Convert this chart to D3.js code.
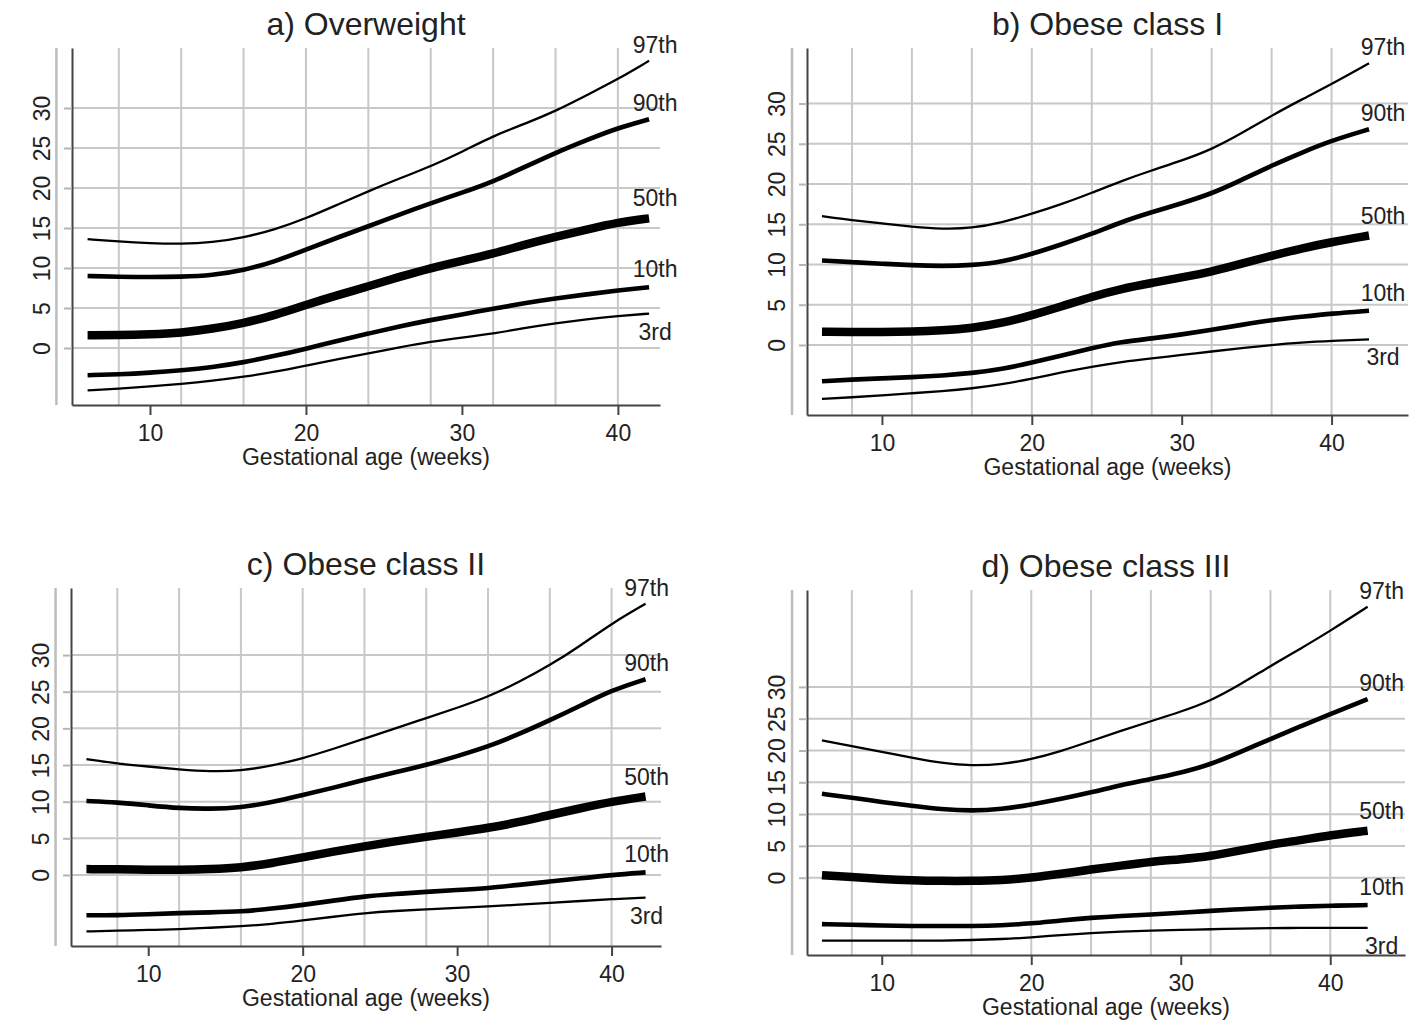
<!DOCTYPE html>
<html>
<head>
<meta charset="utf-8">
<script src="https://cdn.jsdelivr.net/npm/d3@7"></script>
<style>
  body { margin: 0; background: #fff; }
  text { font-family: "Liberation Sans", Arial, Helvetica, sans-serif; fill: #222; }
</style>
</head>
<body>
<svg width="1413" height="1020"></svg>
<script>
//Data (gestational weight gain percentiles, kg)

const percentiles = ['97th', '90th', '50th', '10th', '3rd'];
const weeks = [6, 8, 10, 12, 14, 16, 18, 20, 22, 24, 26, 28, 30, 32, 34, 36, 38, 40];
//last week of each panel's curves (a, b, c, d)
const endWeek = [42, 42.5, 42.2, 42.5];

const xTicks = [10, 20, 30, 40];
const xGrid = [8, 12, 16, 20, 24, 28, 32, 36, 40];
const yTicks = [0, 5, 10, 15, 20, 25, 30];

const titles = ['a) Overweight', 'b) Obese class I', 'c) Obese class II', 'd) Obese class III'];
const xTitle = 'Gestational age (weeks)';

//one row per percentile, 97th first; last value is at endWeek
const overweight = [
  [13.6, 13.3, 13.1, 13.0, 13.2, 13.8, 14.8, 16.2, 17.9, 19.6, 21.2, 22.7, 24.5, 26.5, 28.0, 29.6, 31.6, 33.6, 35.9],
  [9.0, 8.9, 8.85, 8.9, 9.1, 9.7, 10.8, 12.3, 13.8, 15.2, 16.7, 18.1, 19.4, 20.8, 22.6, 24.4, 26.0, 27.5, 28.6],
  [1.6, 1.6, 1.7, 1.9, 2.4, 3.1, 4.1, 5.4, 6.6, 7.7, 8.9, 10.0, 10.9, 11.8, 12.9, 13.9, 14.8, 15.7, 16.2],
  [-3.4, -3.3, -3.1, -2.8, -2.4, -1.8, -1.0, -0.1, 0.9, 1.8, 2.7, 3.5, 4.2, 4.9, 5.6, 6.2, 6.7, 7.2, 7.6],
  [-5.3, -5.1, -4.8, -4.5, -4.1, -3.6, -3.0, -2.2, -1.4, -0.7, 0.1, 0.8, 1.3, 1.8, 2.5, 3.1, 3.6, 4.0, 4.3]
];
const obeseI = [
  [16.0, 15.5, 15.1, 14.7, 14.4, 14.5, 15.2, 16.3, 17.5, 18.9, 20.4, 21.7, 22.9, 24.3, 26.3, 28.5, 30.5, 32.4, 35.0],
  [10.5, 10.3, 10.1, 9.9, 9.8, 9.9, 10.3, 11.3, 12.5, 13.8, 15.3, 16.5, 17.6, 18.8, 20.5, 22.3, 23.9, 25.4, 26.8],
  [1.65, 1.6, 1.6, 1.65, 1.8, 2.1, 2.7, 3.7, 4.8, 6.0, 7.0, 7.7, 8.4, 9.1, 10.1, 11.1, 12.0, 12.8, 13.6],
  [-4.5, -4.3, -4.15, -4.0, -3.8, -3.5, -3.0, -2.2, -1.3, -0.4, 0.4, 0.8, 1.3, 1.9, 2.5, 3.1, 3.5, 3.9, 4.25],
  [-6.7, -6.5, -6.25, -6.0, -5.75, -5.4, -4.9, -4.2, -3.4, -2.7, -2.1, -1.65, -1.25, -0.8, -0.4, 0.0, 0.3, 0.5, 0.7]
];
const obeseII = [
  [15.8, 15.2, 14.8, 14.4, 14.1, 14.2, 14.9, 15.9, 17.2, 18.6, 20.0, 21.4, 22.8, 24.3, 26.3, 28.6, 31.3, 34.3, 37.0],
  [10.1, 9.9, 9.5, 9.1, 9.0, 9.2, 9.9, 10.9, 11.9, 13.0, 14.0, 15.0, 16.2, 17.5, 19.2, 21.1, 23.1, 25.2, 26.7],
  [0.8, 0.77, 0.72, 0.7, 0.8, 1.0, 1.6, 2.4, 3.2, 3.9, 4.6, 5.2, 5.8, 6.4, 7.2, 8.2, 9.1, 10.0, 10.7],
  [-5.5, -5.5, -5.35, -5.2, -5.1, -5.0, -4.6, -4.1, -3.5, -2.9, -2.6, -2.3, -2.05, -1.8, -1.35, -0.9, -0.45, 0.0, 0.35],
  [-7.7, -7.6, -7.5, -7.4, -7.2, -7.0, -6.7, -6.2, -5.7, -5.2, -4.9, -4.7, -4.5, -4.3, -4.05, -3.8, -3.55, -3.3, -3.1]
];
const obeseIII = [
  [21.6, 20.7, 19.8, 18.9, 18.0, 17.6, 17.8, 18.6, 19.9, 21.5, 23.1, 24.6, 26.1, 27.8, 30.4, 33.3, 36.0, 38.8, 42.6],
  [13.2, 12.6, 11.9, 11.3, 10.75, 10.5, 10.75, 11.5, 12.4, 13.4, 14.6, 15.5, 16.5, 17.8, 19.8, 21.8, 23.8, 25.7, 28.1],
  [0.4, 0.1, -0.2, -0.4, -0.5, -0.5, -0.4, 0.0, 0.6, 1.3, 1.9, 2.5, 2.9, 3.4, 4.3, 5.2, 5.9, 6.7, 7.4],
  [-7.3, -7.4, -7.5, -7.6, -7.6, -7.6, -7.5, -7.2, -6.7, -6.3, -6.0, -5.8, -5.5, -5.2, -4.95, -4.7, -4.55, -4.4, -4.3],
  [-9.9, -9.9, -9.9, -9.9, -9.9, -9.8, -9.65, -9.4, -9.0, -8.7, -8.45, -8.3, -8.2, -8.1, -8.0, -7.9, -7.9, -7.9, -7.9]
];
const panelData = [overweight, obeseI, obeseII, obeseIII];

//Layout of each panel (pixel box and axis limits)
const layout = [
  {x0: 72,  x1: 660,  top: 48,  bottom: 405, xMax: 42.7, yDomain: [-7.125, 37.5],  labelDx: 6},
  {x0: 807, x1: 1408, top: 48,  bottom: 415, xMax: 45.1, yDomain: [-8.7, 36.9],   labelDx: 14},
  {x0: 71,  x1: 661,  top: 588, bottom: 946, xMax: 43.2, yDomain: [-9.69, 39.15], labelDx: 1},
  {x0: 807, x1: 1405, top: 590, bottom: 955, xMax: 45,   yDomain: [-12.15, 45.24], labelDx: 14}
];

//line style per percentile
const lineWidth = [2.3, 4.6, 8.5, 4.6, 2.3];
const labelDy = [-16, -16, -20, -18, 18];

const gridColor = '#c8c8c8';
const svg = d3.select('svg');

layout.forEach((p, k) => {
    const g = svg.append('g');
    const x = d3.scaleLinear().domain([5, p.xMax]).range([p.x0, p.x1]);
    const y = d3.scaleLinear().domain(p.yDomain).range([p.bottom, p.top]);

    //grid
    g.selectAll('.vgrid').data(xGrid).enter()
        .append('line')
        .attr('x1', d => x(d)).attr('x2', d => x(d))
        .attr('y1', p.top).attr('y2', p.bottom)
        .attr('stroke', gridColor).attr('stroke-width', 2);

    g.selectAll('.hgrid').data(yTicks).enter()
        .append('line')
        .attr('x1', p.x0).attr('x2', p.x1)
        .attr('y1', d => y(d)).attr('y2', d => y(d))
        .attr('stroke', gridColor).attr('stroke-width', 2);

    //light outer line left of the y axis
    g.append('line')
        .attr('x1', x(4)).attr('x2', x(4))
        .attr('y1', p.top).attr('y2', p.bottom)
        .attr('stroke', '#bdbdbd').attr('stroke-width', 2.5);

    //y axis, labels turned on their side
    const yAxis = g.append('g')
        .attr('transform', `translate(${p.x0},0)`)
        .call(d3.axisLeft(y).tickValues(yTicks).tickSize(8).tickSizeOuter(0));
    yAxis.select('.domain').attr('stroke', '#444').attr('stroke-width', 2);
    yAxis.selectAll('.tick line').attr('stroke', '#b5b5b5').attr('stroke-width', 2);
    yAxis.selectAll('.tick text')
        .attr('x', null).attr('dy', null)
        .attr('transform', 'translate(-30,0) rotate(-90)')
        .attr('text-anchor', 'middle')
        .attr('dominant-baseline', 'central')
        .style('font-size', '23px')
        .style('font-family', null)
        .attr('fill', '#222');

    //x axis
    const xAxis = g.append('g')
        .attr('transform', `translate(0,${p.bottom})`)
        .call(d3.axisBottom(x).tickValues(xTicks).tickSize(10).tickPadding(10).tickSizeOuter(0));
    xAxis.select('.domain').attr('stroke', '#444').attr('stroke-width', 2);
    xAxis.selectAll('.tick line').attr('stroke', '#444').attr('stroke-width', 2);
    xAxis.selectAll('.tick text')
        .style('font-size', '23px')
        .style('font-family', null)
        .attr('fill', '#222');

    //titles
    g.append('text')
        .attr('x', (p.x0 + p.x1) / 2).attr('y', p.top - 13)
        .attr('text-anchor', 'middle')
        .style('font-size', '32px')
        .text(titles[k]);

    g.append('text')
        .attr('x', (p.x0 + p.x1) / 2).attr('y', p.bottom + 52)
        .attr('text-anchor', 'middle')
        .attr('dominant-baseline', 'central')
        .style('font-size', '23px')
        .text(xTitle);

    //percentile curves
    const wk = weeks.concat([endWeek[k]]);
    const line = d3.line()
        .x((d, i) => x(wk[i]))
        .y(d => y(d))
        .curve(d3.curveBasis);

    g.selectAll('.curve').data(panelData[k]).enter()
        .append('path')
        .attr('d', d => line(d))
        .attr('fill', 'none')
        .attr('stroke', '#000')
        .attr('stroke-width', (d, i) => lineWidth[i]);

    g.selectAll('.plabel').data(panelData[k]).enter()
        .append('text')
        .attr('x', x(endWeek[k]) + p.labelDx)
        .attr('y', (d, i) => y(d[d.length - 1]) + labelDy[i])
        .attr('text-anchor', 'middle')
        .attr('dominant-baseline', 'central')
        .style('font-size', '23px')
        .text((d, i) => percentiles[i]);
});
</script>
</body>
</html>
